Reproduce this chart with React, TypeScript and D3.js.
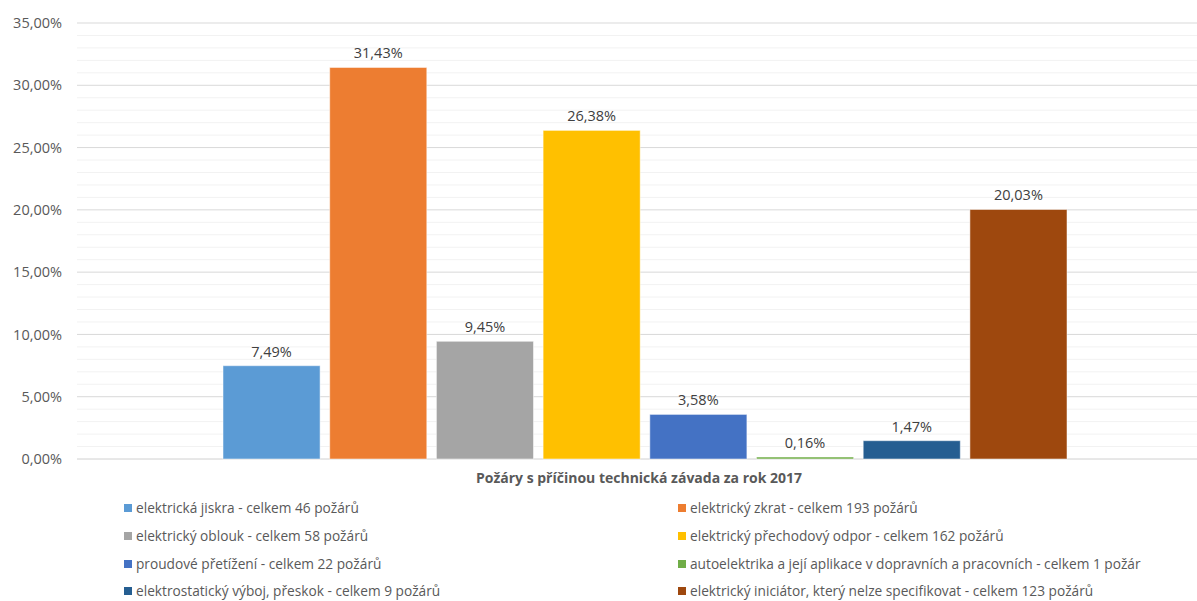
import React from "react";
import * as d3 from "d3";

const series = [
  "elektrická jiskra - celkem 46 požárů",
  "elektrický zkrat - celkem 193 požárů",
  "elektrický oblouk - celkem 58 požárů",
  "elektrický přechodový odpor - celkem 162 požárů",
  "proudové přetížení - celkem 22 požárů",
  "autoelektrika a její aplikace v dopravních a pracovních - celkem 1 požár",
  "elektrostatický výboj, přeskok - celkem 9 požárů",
  "elektrický iniciátor, který nelze specifikovat - celkem 123 požárů",
];
const values = [7.49, 31.43, 9.45, 26.38, 3.58, 0.16, 1.47, 20.03];
const colors = ["#5B9BD5", "#ED7D31", "#A5A5A5", "#FFC000", "#4472C4", "#70AD47", "#255E91", "#9E480E"];
const yTicks = [0, 5, 10, 15, 20, 25, 30, 35];
const category = "Požáry s příčinou technická závada za rok 2017";

const W = 1197;
const H = 601;
const FONT = "'Open Sans', 'Noto Sans', sans-serif";

export default function App() {
  const y = d3.scaleLinear().domain([0, 35]).range([459, 23]);
  const x = d3.scaleBand<string>().domain(series).range([223, 1067]).paddingInner(0.09).paddingOuter(0);
  const gridLeft = 77;
  const gridRight = 1197;
  const minor = d3.range(0, 36, 1).filter((v) => v % 5 !== 0);
  const fmt = (v: number) => v.toFixed(2).replace(".", ",") + "%";

  const legendRows = [508, 536, 564, 591];
  const legendCols = [124, 678];

  return (
    <svg width={W} height={H} style={{ position: "absolute", left: 0, top: 0, background: "#fff" }} fontFamily={FONT}>
      <rect x={0} y={0} width={W} height={H} fill="#fff" />
      {minor.map((v) => (
        <line key={"m" + v} x1={gridLeft} x2={gridRight} y1={y(v)} y2={y(v)} stroke="#F2F2F2" strokeWidth={1} />
      ))}
      {yTicks.map((v) => (
        <line key={"g" + v} x1={gridLeft} x2={gridRight} y1={y(v)} y2={y(v)} stroke={v === 0 ? "#D0D0D0" : "#D9D9D9"} strokeWidth={1} />
      ))}
      {yTicks.map((v) => (
        <text key={"t" + v} x={62} y={y(v)} dy="0.35em" textAnchor="end" fontSize={14.5} fill="#595959">
          {fmt(v)}
        </text>
      ))}
      {series.map((s, i) => (
        <g key={s}>
          <rect
            x={x(s)}
            y={y(values[i])}
            width={x.bandwidth()}
            height={y(0) - y(values[i])}
            fill={colors[i]}
            stroke="#fff"
            strokeOpacity={0.5}
            strokeWidth={1}
          />
          <text x={(x(s) as number) + x.bandwidth() / 2} y={y(values[i]) - 9} textAnchor="middle" fontSize={14.5} fill="#404040">
            {fmt(values[i])}
          </text>
        </g>
      ))}
      <text x={639} y={483} textAnchor="middle" fontSize={14} fontWeight="bold" fill="#595959">
        {category}
      </text>
      {series.map((s, i) => {
        const col = i % 2;
        const row = Math.floor(i / 2);
        const lx = legendCols[col];
        const ly = legendRows[row];
        return (
          <g key={"l" + s}>
            <rect x={lx} y={ly - 4} width={8} height={8} fill={colors[i]} />
            <text x={lx + 12} y={ly} dy="0.35em" fontSize={13.7} fill="#595959">
              {s}
            </text>
          </g>
        );
      })}
    </svg>
  );
}
